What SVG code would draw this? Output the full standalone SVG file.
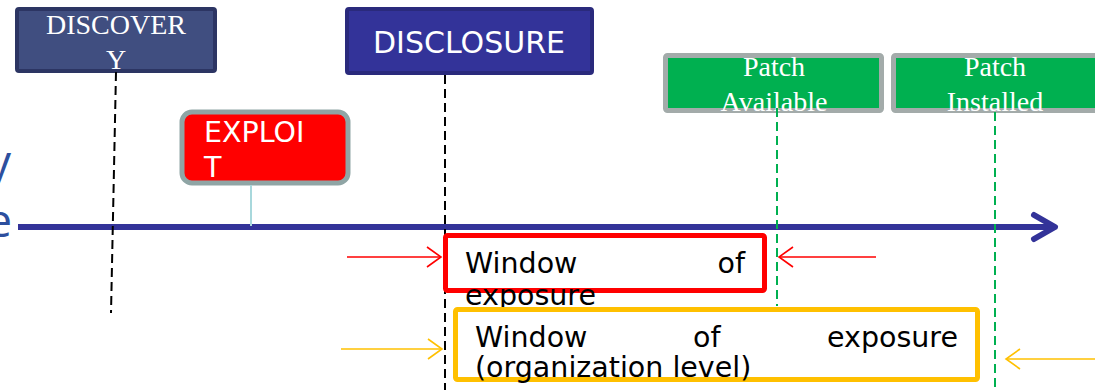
<svg xmlns="http://www.w3.org/2000/svg" width="1095" height="390" viewBox="0 0 1095 390">
  <style>
    .serif { font-family: "Liberation Serif", "Times New Roman", serif; font-size: 28px; fill: #ffffff; }
    .sans { font-family: "DejaVu Sans", Verdana, sans-serif; font-size: 28.5px; }
    .white { fill: #ffffff; }
    .dark { fill: #000000; }
    .side { font-family: "Open Sans", "Noto Sans", sans-serif; font-size: 46px; fill: #2d4f9e; }
    .vdash { fill: none; stroke-width: 2; stroke-dasharray: 9 5; }
    .black { stroke: #000000; }
    .green { stroke: #00b050; }
  </style>
  <defs>
    <marker id="headRed" viewBox="-16 -12 18 24" markerWidth="18" markerHeight="24" refX="0" refY="0" orient="auto" markerUnits="userSpaceOnUse">
      <path d="M-14,-10 L0,0 L-14,10" fill="none" stroke="#ff0000" stroke-width="1.6"/>
    </marker>
    <marker id="headAmber" viewBox="-16 -12 18 24" markerWidth="18" markerHeight="24" refX="0" refY="0" orient="auto" markerUnits="userSpaceOnUse">
      <path d="M-14,-10 L0,0 L-14,10" fill="none" stroke="#ffc000" stroke-width="1.6"/>
    </marker>
  </defs>

  <rect width="1095" height="390" fill="#ffffff"/>

  <!-- clipped labels at the left edge -->
  <text class="side" x="11" y="178" text-anchor="end">y</text>
  <text class="side" x="12" y="237" text-anchor="end">e</text>

  <!-- milestone boxes above the timeline -->
  <g id="discovery">
    <rect x="17" y="9" width="198" height="62" rx="2" fill="#404e80" stroke="#2c3563" stroke-width="4"/>
    <text class="serif" x="116" y="34" text-anchor="middle">DISCOVER</text>
    <text class="serif" x="116" y="69" text-anchor="middle">Y</text>
  </g>
  <g id="disclosure">
    <rect x="347" y="9" width="245" height="64" rx="2" fill="#333399" stroke="#2a2a7c" stroke-width="4"/>
    <text class="sans white" x="469" y="53" text-anchor="middle" style="font-size:30px">DISCLOSURE</text>
  </g>
  <g id="exploit">
    <rect x="182" y="112" width="166" height="71" rx="10" fill="#ff0000" stroke="#8fa5a5" stroke-width="5"/>
    <text class="sans white" x="204" y="142">EXPLOI</text>
    <text class="sans white" x="204" y="177">T</text>
  </g>
  <g id="patch-available">
    <rect x="665.5" y="55.5" width="216" height="55" rx="2" fill="#00b050" stroke="#a3abaa" stroke-width="5"/>
    <text class="serif" x="774" y="76" text-anchor="middle">Patch</text>
    <text class="serif" x="774" y="111" text-anchor="middle">Available</text>
  </g>
  <g id="patch-installed">
    <rect x="893.5" y="55.5" width="220" height="55" rx="2" fill="#00b050" stroke="#a3abaa" stroke-width="5"/>
    <text class="serif" x="995" y="76" text-anchor="middle">Patch</text>
    <text class="serif" x="995" y="111" text-anchor="middle">Installed</text>
  </g>

  <!-- timeline, markers and exposure arrows -->
  <g id="connectors">
    <line x1="18" y1="227" x2="1052" y2="227" stroke="#333399" stroke-width="6"/>
    <path d="M1034,215 L1055,227 L1034,239" fill="none" stroke="#333399" stroke-width="6" stroke-linecap="round" stroke-linejoin="round"/>
    <line x1="251" y1="185" x2="251" y2="226" stroke="#a8d8dc" stroke-width="2"/>
    <line class="vdash black" x1="116" y1="72" x2="111" y2="313"/>
    <line class="vdash black" x1="445" y1="75" x2="445" y2="390"/>
    <line class="vdash green" x1="777" y1="108" x2="777" y2="306"/>
    <line class="vdash green" x1="995" y1="112" x2="995" y2="390"/>
    <line x1="347" y1="257" x2="441" y2="257" stroke="#ff0000" stroke-width="1.6" marker-end="url(#headRed)"/>
    <line x1="876" y1="257" x2="779" y2="257" stroke="#ff0000" stroke-width="1.6" marker-end="url(#headRed)"/>
    <line x1="341" y1="349" x2="442" y2="349" stroke="#ffc000" stroke-width="1.6" marker-end="url(#headAmber)"/>
    <line x1="1095" y1="359" x2="1006" y2="359" stroke="#ffc000" stroke-width="1.6" marker-end="url(#headAmber)"/>
  </g>

  <!-- exposure windows -->
  <g id="window-vendor">
    <rect x="445.5" y="235.5" width="319" height="55" rx="2" fill="#ffffff" stroke="#ff0000" stroke-width="5"/>
    <text class="sans dark" x="465" y="273">Window</text>
    <text class="sans dark" x="745" y="273" text-anchor="end">of</text>
    <text class="sans dark" x="465" y="305">exposure</text>
  </g>
  <g id="window-organization">
    <rect x="455.5" y="309.5" width="522" height="70" rx="2" fill="#ffffff" stroke="#ffc000" stroke-width="5"/>
    <text class="sans dark" x="475" y="347">Window</text>
    <text class="sans dark" x="693" y="347">of</text>
    <text class="sans dark" x="958" y="347" text-anchor="end">exposure</text>
    <text class="sans dark" x="475" y="377">(organization level)</text>
  </g>
</svg>
